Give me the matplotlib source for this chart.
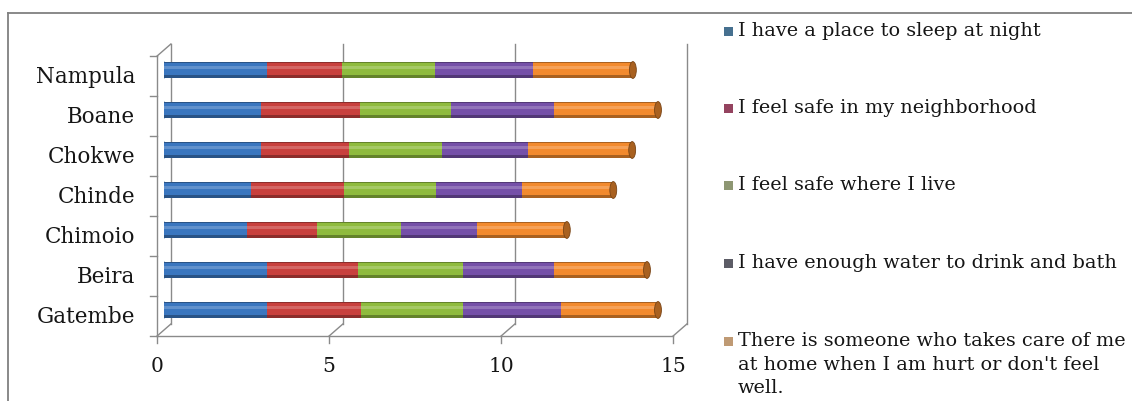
import matplotlib
matplotlib.use('Agg')
import matplotlib.pyplot as plt
from matplotlib.lines import Line2D
from matplotlib.patches import Ellipse, Rectangle
import numpy as np

plt.rcParams['font.family'] = ['DejaVu Serif']

# Gebiete (von unten nach oben)
sites = ['Gatembe', 'Beira', 'Chimoio', 'Chinde', 'Chokwe', 'Boane', 'Nampula']

sleep_place = [2.99, 2.99, 2.42, 2.52, 2.83, 2.83, 2.99]
safe_neighborhood = [2.75, 2.65, 2.02, 2.70, 2.54, 2.86, 2.18]
safe_home = [2.96, 3.06, 2.44, 2.70, 2.71, 2.64, 2.70]
enough_water = [2.85, 2.65, 2.23, 2.49, 2.49, 3.02, 2.85]
cared_for = [2.81, 2.69, 2.60, 2.65, 3.04, 3.01, 2.91]

labels = ['I have a place to sleep at night',
          'I feel safe in my neighborhood',
          'I feel safe where I live',
          'I have enough water to drink and bath',
          "There is someone who takes care of me\nat home when I am hurt or don't feel\nwell."]
xticks = [0, 5, 10, 15]

series = [sleep_place, safe_neighborhood, safe_home, enough_water, cared_for]
colors = ['#3a76bf', '#c8403d', '#8fbb3e', '#7550a8', '#f28a2e']
legend_colors = ['#46708f', '#94435f', '#8e9773', '#5c5c66', '#bf9a74']


def shade(c, f):
    rgb = np.array(matplotlib.colors.to_rgb(c))
    if f < 1:
        return tuple(rgb * f)
    return tuple(rgb + (1 - rgb) * (f - 1))


W, H = 1132, 402
fig = plt.figure(figsize=(W / 100, H / 100), dpi=100)
ax = fig.add_axes([164 / W, (H - 331) / H, 516 / W, 280 / H])
ax.set_xlim(0, 15)
ax.set_ylim(-0.5, 6.5)
ax.axis('off')

dx, dy = 0.2, 0.15   # Tiefenversatz vorne/hinten
grid = '#8a8a8a'
txt = '#151515'

# Rueckwand mit Gitterlinien
for x in xticks:
    ax.plot([x + dx, x + dx], [-0.5 + dy, 6.5 + dy], color=grid, lw=1, clip_on=False, zorder=1)

# linke Wand, Boden
ax.plot([-dx, -dx], [-0.5 - dy, 6.5 - dy], color=grid, lw=1, clip_on=False)
ax.plot([-dx, dx], [6.5 - dy, 6.5 + dy], color=grid, lw=1, clip_on=False)
ax.plot([-dx, 15 - dx], [-0.5 - dy, -0.5 - dy], color=grid, lw=1, clip_on=False)
for x in xticks:
    ax.plot([x - dx, x + dx], [-0.5 - dy, -0.5 + dy], color=grid, lw=1, clip_on=False)
    ax.plot([x - dx, x - dx], [-0.5 - dy, -0.5 - dy - 0.18], color=grid, lw=1, clip_on=False)
    ax.text(x - dx, -1.38, str(x), ha='center', va='center', fontsize=14.5, color=txt)
for k in range(8):
    yk = k - 0.5 - dy
    ax.plot([-2 * dx, -dx], [yk, yk], color=grid, lw=1, clip_on=False)

y = np.arange(len(sites))
for i, s in enumerate(sites):
    ax.text(-0.84, i - dy, s, ha='right', va='center', fontsize=15.5, color=txt)

# Balken als Zylinder
h = 0.42
for i in range(len(sites)):
    ax.add_patch(Ellipse((0, y[i]), 0.2, h, facecolor=shade(colors[0], 0.8),
                         edgecolor='none', zorder=2))
left = np.zeros(len(sites))
for vals, c in zip(series, colors):
    vals = np.array(vals)
    ax.barh(y, vals, left=left, height=h, color=shade(c, 0.7), zorder=3)
    ax.barh(y + 0.02, vals, left=left, height=0.3, color=c, zorder=4)
    ax.barh(y + 0.07, vals, left=left, height=0.08, color=shade(c, 1.2), zorder=5)
    left = left + vals
for i in range(len(sites)):
    ax.add_patch(Ellipse((left[i], y[i]), 0.2, h, facecolor=shade(colors[-1], 0.7),
                         edgecolor=shade(colors[-1], 0.5), lw=0.6, zorder=6))

# Legende
ys = [33, 110, 187, 265, 343]
for lab, c, yp in zip(labels, legend_colors, ys):
    fig.add_artist(Rectangle((724 / W, (H - yp - 4) / H), 9 / W, 9 / H,
                             facecolor=c, edgecolor='none', transform=fig.transFigure))
    fig.text(738 / W, (H - yp + 11) / H, lab, ha='left', va='top', fontsize=13.9,
             color=txt, linespacing=1.4)

# Rahmen
fig.add_artist(Line2D([8 / W, 8 / W], [0, (H - 14) / H], color='#808080', lw=1.3,
                      transform=fig.transFigure))
fig.add_artist(Line2D([8 / W, 1], [(H - 14) / H, (H - 14) / H], color='#808080', lw=1.3,
                      transform=fig.transFigure))

fig.savefig('out.png', dpi=100)
